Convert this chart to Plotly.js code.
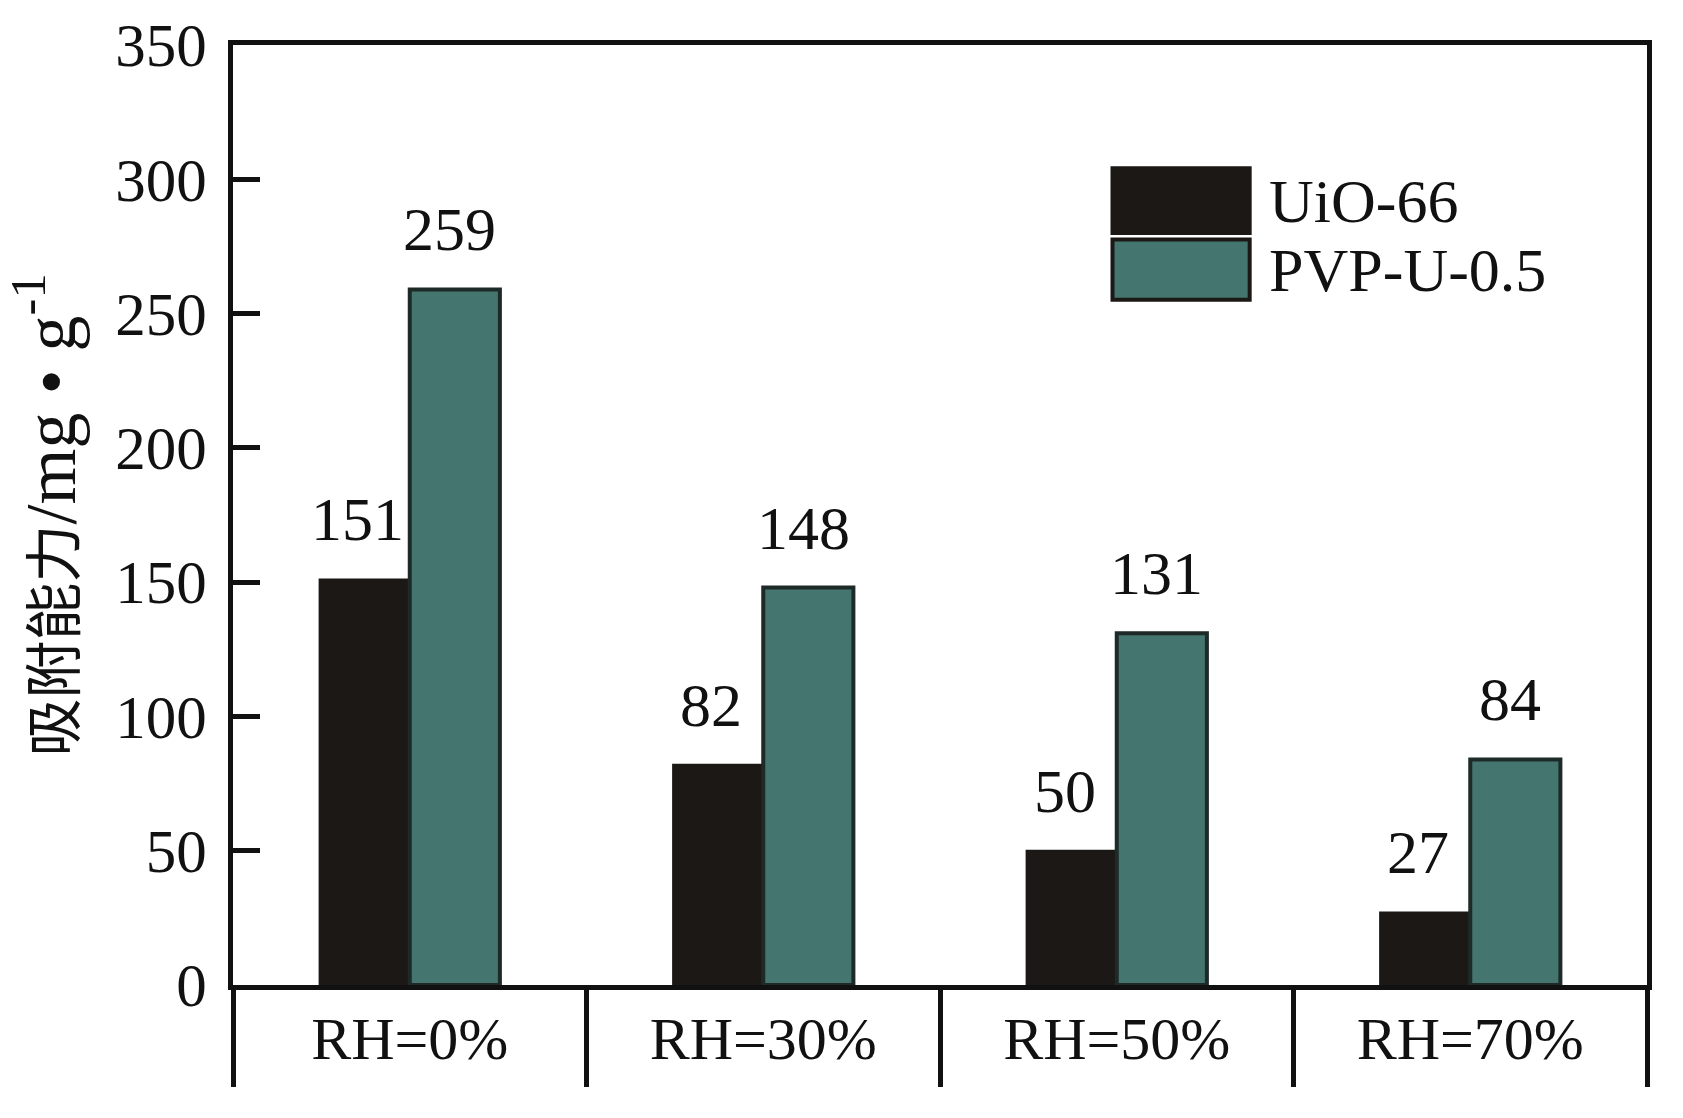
<!DOCTYPE html>
<html>
<head>
<meta charset="utf-8">
<script src="https://cdn.plot.ly/plotly-3.0.1.min.js"></script>
<style>
html,body{margin:0;padding:0;background:#fff;}
#chart{width:1683px;height:1118px;}
</style>
</head>
<body>
<div id="chart"></div>
<script>
const categories = ["RH=0%", "RH=30%", "RH=50%", "RH=70%"];
const seriesNames = ["UiO-66", "PVP-U-0.5"];
const uioValues = [151, 82, 50, 27];
const pvpValues = [259, 148, 131, 84];
const seriesColors = ["#1b1816", "#44766f"];
const yTitleCJK = "吸附能力";
const yTitleUnit = "/mg • g<sup>-1</sup>";

const FONT = "Liberation Serif, Times New Roman, Noto Sans CJK SC, serif";
const FS = 61;

const traces = [
  {
    type: "bar", name: seriesNames[0], x: categories, y: uioValues,
    marker: {color: seriesColors[0], line: {color: "#1b1816", width: 2}},
    hoverinfo: "none"
  },
  {
    type: "bar", name: seriesNames[1], x: categories, y: pvpValues,
    marker: {color: seriesColors[1], line: {color: "#1e2a28", width: 4}},
    hoverinfo: "none"
  }
];

const annotations = [];
const allVals = [uioValues, pvpValues];
const shifts = [-52, 40];
allVals.forEach((vals, s) => {
  vals.forEach((v, i) => {
    annotations.push({
      x: categories[i], y: v, xref: "x", yref: "y",
      text: String(v), showarrow: false,
      xshift: shifts[s], yshift: 24, yanchor: "bottom",
      font: {family: FONT, size: 62, color: "#111"}
    });
  });
});

// custom legend (large swatches)
const shapes = [];
const legendY = [[0.869, 0.800], [0.793, 0.729]];
seriesNames.forEach((nm, s) => {
  shapes.push({
    type: "rect", xref: "paper", yref: "paper",
    x0: 0.622, x1: 0.719, y0: legendY[s][1], y1: legendY[s][0],
    fillcolor: seriesColors[s], line: {color: "#1b1816", width: 4}
  });
  annotations.push({
    xref: "paper", yref: "paper", x: 0.731, y: (legendY[s][0] + legendY[s][1]) / 2,
    xanchor: "left", yanchor: "middle", showarrow: false, text: nm,
    font: {family: FONT, size: 62, color: "#111"}
  });
});

const layout = {
  width: 1683, height: 1118,
  margin: {l: 233, r: 36, t: 45, b: 133},
  paper_bgcolor: "#fff", plot_bgcolor: "#fff",
  showlegend: false,
  barmode: "group", bargap: 0.49, bargroupgap: 0,
  font: {family: FONT, size: FS, color: "#111"},
  xaxis: {
    type: "category",
    showline: true, linewidth: 5, linecolor: "#111", mirror: true,
    ticks: "outside", tickson: "boundaries", ticklen: 97, tickwidth: 5, tickcolor: "#111",
    ticklabelstandoff: -3,
    tickfont: {family: FONT, size: 60, color: "#111"},
    showgrid: false, zeroline: false, fixedrange: true
  },
  yaxis: {
    range: [0, 350], dtick: 50, tick0: 0,
    showline: true, linewidth: 5, linecolor: "#111", mirror: true,
    ticks: "inside", ticklen: 27, tickwidth: 5, tickcolor: "#111",
    ticklabelstandoff: 9,
    tickfont: {family: FONT, size: 61, color: "#111"},
    showgrid: false, zeroline: false, fixedrange: true,
    title: {
      text: '<span style="font-size:58px">' + yTitleCJK + '</span>' + yTitleUnit,
      font: {family: FONT, size: 72, color: "#111"},
      standoff: 20
    }
  },
  shapes: shapes,
  annotations: annotations
};

Plotly.newPlot("chart", traces, layout, {displayModeBar: false, staticPlot: true});
</script>
</body>
</html>
